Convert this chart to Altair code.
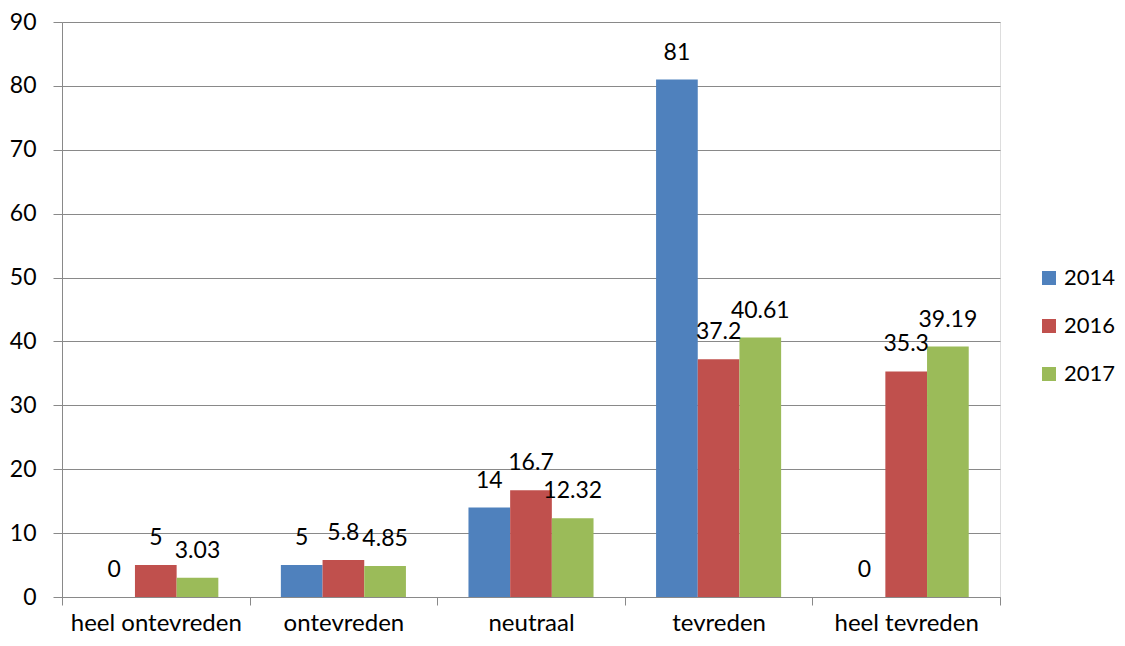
import altair as alt
import pandas as pd

categories = ["heel ontevreden", "ontevreden", "neutraal", "tevreden", "heel tevreden"]
years = ["2014", "2016", "2017"]
values_2014 = [0, 5, 14, 81, 0]
values_2016 = [5, 5.8, 16.7, 37.2, 35.3]
values_2017 = [3.03, 4.85, 12.32, 40.61, 39.19]
colors = ["#4F81BD", "#C0504D", "#9BBB59"]

rows = []
for yr, vals in zip(years, [values_2014, values_2016, values_2017]):
    for c, v in zip(categories, vals):
        rows.append({"cat": c, "year": yr, "value": v, "label": f"{v:g}"})
df = pd.DataFrame(rows)

FONT = "Lato"
GRAY = "#898989"
FS = 23

x = alt.X("cat:N", sort=categories, title=None,
          scale=alt.Scale(paddingInner=0, paddingOuter=0),
          axis=alt.Axis(labelAngle=0, labelFontSize=24, labelFont=FONT, labelColor="black",
                        labelBaseline="alphabetic",
                        tickBand="extent", tickSize=8, tickColor=GRAY, domainColor=GRAY,
                        labelPadding=25, grid=False))
xo = alt.XOffset("year:N", scale=alt.Scale(paddingInner=0, paddingOuter=0.75))
y = alt.Y("value:Q", title=None,
          scale=alt.Scale(domain=[0, 90], nice=False),
          axis=alt.Axis(values=list(range(0, 91, 10)), labelFontSize=FS, labelFont=FONT,
                        labelColor="black", tickSize=9, tickColor=GRAY, domainColor=GRAY,
                        gridColor=GRAY, labelPadding=17))

bars = alt.Chart(df).mark_bar().encode(
    x=x, xOffset=xo, y=y,
    color=alt.Color("year:N", scale=alt.Scale(domain=years, range=colors),
                    legend=alt.Legend(title=None, orient="none", legendX=976, legendY=245,
                                      padding=0,
                                      symbolType="square", symbolSize=196, symbolStrokeWidth=0,
                                      labelFontSize=22, labelFont=FONT, labelColor="black",
                                      rowPadding=26, labelOffset=4)),
)
labels = alt.Chart(df).mark_text(fontSize=FS, font=FONT, color="black", baseline="alphabetic", dy=-20).encode(
    x=alt.X("cat:N", sort=categories), xOffset=xo, y="value:Q", text="label:N"
)

chart = alt.layer(bars, labels).properties(
    width=938, height=575,
    autosize=alt.AutoSizeParams(type="none"),
    padding={"left": 54, "top": 14, "right": 117, "bottom": 41},
).configure_view(stroke=None).configure(background="white")

chart.save("out.html", embed_options={"renderer": "svg", "actions": False})
